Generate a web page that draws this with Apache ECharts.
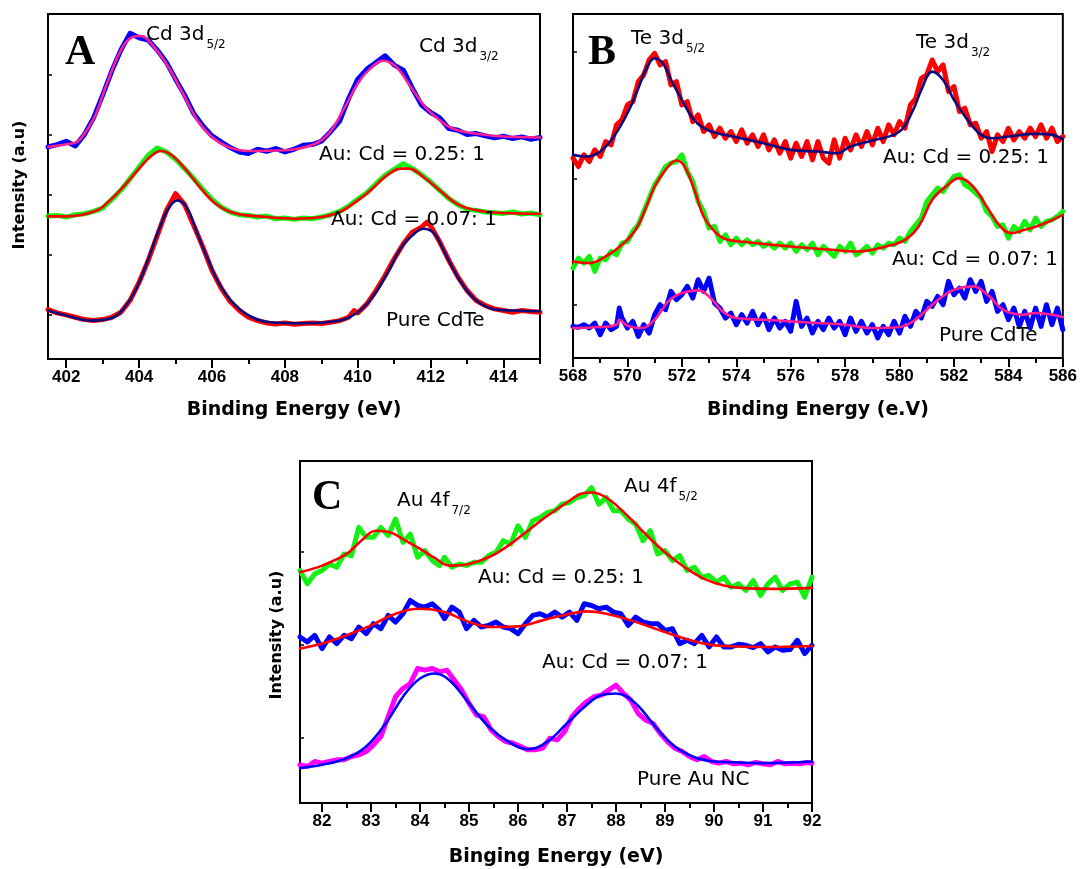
<!DOCTYPE html>
<html><head><meta charset="utf-8">
<script src="https://cdn.jsdelivr.net/npm/echarts@6.0.0/dist/echarts.min.js"></script>
<style>html,body{margin:0;padding:0;background:#fff}#c{width:1080px;height:869px}</style>
</head><body><div id="c"></div>
<script>
// ---------- Panel A : Cd 3d (intensity in arbitrary units) ----------
const fitA1 = [[401.5,635],[402,643],[402.3,650],[402.5,675],[402.8,730],[403.1,820],[403.5,925],[403.8,963],[404.05,967],[404.4,935],[404.8,875],[405.2,795],[405.6,715],[406,665],[406.45,635],[407,623],[408,625],[408.8,643],[409.2,675],[409.6,745],[410,825],[410.3,865],[410.7,893],[411.05,875],[411.45,815],[411.85,755],[412.25,715],[412.6,690],[413.2,675],[413.9,667],[415,663]];
const rawA1 = [[401.5,635],[401.75,642],[402,652],[402.25,638],[402.5,672],[402.75,722],[403,790],[403.25,862],[403.5,925],[403.75,975],[404,962],[404.25,955],[404.5,925],[404.75,888],[405,838],[405.25,790],[405.5,735],[405.75,698],[406,668],[406.25,650],[406.5,633],[406.75,620],[407,615],[407.25,628],[407.5,622],[407.75,630],[408,620],[408.25,628],[408.5,640],[408.75,642],[409,652],[409.25,680],[409.5,712],[409.75,780],[410,838],[410.25,868],[410.5,888],[410.75,908],[411,880],[411.25,865],[411.5,810],[411.75,760],[412,738],[412.25,722],[412.5,690],[412.75,685],[413,672],[413.25,675],[413.5,668],[413.75,662],[414,667],[414.25,660],[414.5,665],[414.75,658],[415,663]];
const fitA2 = [[401.5,427],[402,427],[402.8,443],[403.2,475],[403.6,520],[404,570],[404.3,605],[404.6,623],[404.9,610],[405.3,565],[405.7,510],[406.1,465],[406.6,437],[407.3,427],[408.3,420],[409,425],[409.5,440],[410,475],[410.4,510],[410.8,550],[411.2,570],[411.4,570],[411.8,545],[412.3,500],[412.8,460],[413.4,443],[414,437],[415,435]];
const rawA2 = [[401.5,428],[401.75,430],[402,425],[402.25,432],[402.5,435],[402.75,442],[403,452],[403.25,478],[403.5,505],[403.75,540],[404,575],[404.25,610],[404.5,632],[404.75,620],[405,598],[405.25,570],[405.5,540],[405.75,508],[406,478],[406.25,455],[406.5,440],[406.75,432],[407,430],[407.25,425],[407.5,428],[407.75,420],[408,422],[408.25,418],[408.5,422],[408.75,420],[409,425],[409.25,432],[409.5,442],[409.75,458],[410,478],[410.25,498],[410.5,525],[410.75,550],[411,568],[411.25,585],[411.5,570],[411.75,552],[412,530],[412.25,505],[412.5,480],[412.75,462],[413,448],[413.25,445],[413.5,440],[413.75,438],[414,436],[414.25,440],[414.5,434],[414.75,437],[415,432]];
const fitA3 = [[401.5,145],[402,130],[402.7,115],[403.3,125],[403.6,155],[403.9,205],[404.2,285],[404.5,375],[404.8,450],[405.05,475],[405.3,455],[405.6,375],[405.9,295],[406.2,225],[406.6,165],[407.1,125],[407.6,110],[408.5,107],[409.5,115],[410,140],[410.4,185],[410.8,255],[411.2,335],[411.55,375],[411.8,390],[412.1,375],[412.4,315],[412.8,235],[413.2,180],[413.7,150],[414.3,145],[415,143]];
const rawA3 = [[401.5,148],[401.75,138],[402,132],[402.25,125],[402.5,118],[402.75,115],[403,118],[403.25,125],[403.5,140],[403.75,175],[404,230],[404.25,295],[404.5,370],[404.75,445],[405,495],[405.25,462],[405.5,400],[405.75,335],[406,265],[406.25,212],[406.5,172],[406.75,145],[407,125],[407.25,115],[407.5,108],[407.75,105],[408,108],[408.25,104],[408.5,106],[408.75,108],[409,106],[409.25,110],[409.5,115],[409.75,125],[409.9,145],[410,138],[410.25,165],[410.5,205],[410.75,250],[411,300],[411.25,345],[411.5,380],[411.75,395],[411.9,410],[412,398],[412.25,350],[412.5,295],[412.75,245],[413,205],[413.25,175],[413.5,160],[413.75,150],[414,145],[414.25,140],[414.5,145],[414.75,142],[415,140]];

// ---------- Panel B : Te 3d ----------
const fitB1 = [[568,610],[568.5,605],[569,620],[569.5,665],[570,735],[570.4,810],[570.7,870],[571,900],[571.3,885],[571.6,835],[572,775],[572.4,720],[572.8,690],[573.3,675],[574,663],[575,645],[576,625],[577,620],[577.7,615],[578.2,635],[579,653],[580,680],[580.5,745],[580.8,805],[581.2,860],[581.6,835],[582,775],[582.5,715],[583,670],[583.4,660],[584,665],[585,673],[585.6,670],[586,657]];
const rawB1 = [[568,600],[568.2,575],[568.4,610],[568.6,590],[568.8,625],[569,605],[569.2,650],[569.4,640],[569.6,700],[569.8,715],[570,760],[570.2,770],[570.4,830],[570.6,850],[570.8,895],[571,915],[571.2,880],[571.4,890],[571.6,820],[571.8,830],[572,760],[572.2,770],[572.4,710],[572.6,730],[572.8,680],[573,700],[573.2,665],[573.4,690],[573.6,660],[573.8,680],[574,650],[574.2,685],[574.4,645],[574.6,670],[574.8,635],[575,670],[575.2,625],[575.4,655],[575.6,615],[575.8,650],[576,600],[576.2,645],[576.4,605],[576.6,650],[576.8,595],[577,650],[577.2,600],[577.4,585],[577.6,655],[577.8,600],[578,660],[578.2,625],[578.4,670],[578.6,635],[578.8,680],[579,640],[579.2,690],[579.4,650],[579.6,700],[579.8,670],[580,710],[580.2,690],[580.4,760],[580.6,780],[580.8,840],[581,850],[581.2,895],[581.4,860],[581.6,880],[581.8,800],[582,815],[582.2,740],[582.4,750],[582.6,700],[582.8,705],[583,660],[583.2,680],[583.4,620],[583.6,670],[583.8,650],[584,690],[584.2,655],[584.4,680],[584.6,660],[584.8,690],[585,665],[585.2,700],[585.4,660],[585.6,690],[585.8,650],[586,665]];
const fitB2 = [[568,290],[568.6,285],[569.2,305],[569.8,340],[570.3,385],[570.7,455],[571,515],[571.4,565],[571.8,593],[572.1,575],[572.5,495],[572.8,425],[573.2,380],[573.6,357],[574.5,347],[576,335],[577.5,325],[578.5,320],[579.5,335],[580.2,355],[580.7,395],[581.2,475],[581.7,515],[582.2,540],[582.7,515],[583.2,455],[583.7,395],[584.1,375],[584.6,385],[585.2,400],[586,430]];
const rawB2 = [[568,270],[568.2,300],[568.4,285],[568.6,305],[568.8,260],[569,300],[569.2,295],[569.4,320],[569.6,310],[569.8,345],[570,350],[570.2,380],[570.4,400],[570.6,440],[570.8,480],[571,520],[571.2,545],[571.4,575],[571.6,585],[571.8,590],[572,610],[572.2,560],[572.4,530],[572.6,470],[572.8,440],[573,390],[573.2,395],[573.4,350],[573.6,370],[573.8,340],[574,360],[574.2,340],[574.4,355],[574.6,340],[574.8,350],[575,335],[575.2,345],[575.4,330],[575.6,345],[575.8,330],[576,345],[576.2,320],[576.4,340],[576.6,325],[576.8,345],[577,310],[577.2,335],[577.4,320],[577.6,305],[577.8,335],[578,320],[578.2,345],[578.4,310],[578.6,320],[578.8,335],[579,315],[579.2,340],[579.4,330],[579.6,345],[579.8,340],[580,360],[580.2,350],[580.4,380],[580.6,400],[580.8,420],[581,470],[581.2,490],[581.4,510],[581.6,500],[581.8,525],[582,545],[582.2,550],[582.4,520],[582.6,510],[582.8,495],[583,480],[583.2,440],[583.4,425],[583.6,395],[583.8,400],[584,360],[584.2,395],[584.4,380],[584.6,410],[584.8,385],[585,420],[585.2,395],[585.4,410],[585.6,415],[585.8,425],[586,440]];
const fitB3 = [[568,90],[569,93],[569.6,100],[569.7,115],[570,97],[570.5,90],[571,115],[571.5,170],[572,195],[572.6,203],[573,185],[573.5,140],[574,120],[575,115],[576,110],[577,105],[578,100],[579,90],[580,93],[580.5,110],[581,145],[581.5,180],[582,205],[582.7,215],[583.3,185],[583.8,145],[584.5,130],[585,135],[586,123]];
const rawB3 = [[568,95],[568.2,92],[568.4,100],[568.6,90],[568.8,105],[569,70],[569.2,105],[569.4,85],[569.6,95],[569.7,150],[569.8,120],[570,90],[570.2,110],[570.4,65],[570.6,100],[570.8,75],[571,130],[571.2,160],[571.4,145],[571.6,200],[571.8,175],[572,190],[572.2,215],[572.4,180],[572.6,235],[572.8,200],[573,240],[573.2,165],[573.4,150],[573.6,120],[573.8,135],[574,100],[574.2,130],[574.4,105],[574.6,140],[574.8,100],[575,130],[575.2,85],[575.4,120],[575.6,90],[575.8,110],[576,80],[576.2,170],[576.4,95],[576.6,120],[576.8,75],[577,110],[577.2,85],[577.4,120],[577.6,90],[577.8,110],[578,70],[578.2,120],[578.4,80],[578.6,110],[578.8,75],[579,100],[579.2,60],[579.4,95],[579.6,70],[579.8,110],[580,75],[580.2,125],[580.4,95],[580.6,140],[580.8,120],[581,170],[581.2,155],[581.4,185],[581.6,160],[581.8,230],[582,190],[582.2,210],[582.4,180],[582.6,235],[582.8,200],[583,230],[583.2,170],[583.4,200],[583.6,140],[583.8,160],[584,115],[584.2,150],[584.4,95],[584.6,140],[584.8,90],[585,150],[585.2,95],[585.4,160],[585.6,100],[585.8,150],[586,85]];

// ---------- Panel C : Au 4f ----------
const fitC1 = [[81.55,695],[82,715],[82.5,750],[82.8,790],[83.1,820],[83.4,815],[83.7,790],[84,765],[84.3,738],[84.6,715],[85,720],[85.4,740],[85.8,775],[86.2,820],[86.6,865],[87,905],[87.3,932],[87.5,935],[87.8,920],[88.2,870],[88.6,810],[89,755],[89.4,710],[89.8,675],[90.2,655],[90.6,647],[91.2,645],[92,648]];
const rawC1 = [[81.55,700],[81.7,660],[81.85,690],[82,700],[82.15,720],[82.3,710],[82.45,750],[82.6,745],[82.75,830],[82.9,800],[83.05,800],[83.2,830],[83.35,805],[83.5,855],[83.65,785],[83.8,810],[83.95,740],[84.1,760],[84.25,730],[84.4,715],[84.5,740],[84.65,710],[84.8,720],[84.95,715],[85.1,725],[85.25,725],[85.4,745],[85.55,755],[85.7,790],[85.85,780],[86,835],[86.15,800],[86.3,850],[86.45,860],[86.6,875],[86.75,880],[86.9,900],[87.05,905],[87.2,920],[87.35,925],[87.5,950],[87.65,900],[87.8,920],[87.95,880],[88.1,880],[88.25,855],[88.4,840],[88.55,790],[88.7,820],[88.85,750],[89,760],[89.15,730],[89.3,745],[89.45,700],[89.6,710],[89.75,680],[89.9,685],[90.05,665],[90.2,680],[90.35,650],[90.5,660],[90.65,640],[90.8,670],[90.95,625],[91.1,660],[91.25,680],[91.4,640],[91.55,660],[91.7,665],[91.85,620],[92,680]];
const fitC2 = [[81.55,465],[82,480],[82.5,505],[83,535],[83.5,570],[84,585],[84.5,575],[85,545],[85.5,530],[86,532],[86.5,550],[87,568],[87.4,577],[87.8,570],[88.3,550],[88.8,525],[89.3,500],[89.8,480],[90.3,472],[91,470],[92,473]];
const rawC2 = [[81.55,500],[81.7,485],[81.85,505],[82,465],[82.15,500],[82.3,480],[82.45,505],[82.6,495],[82.75,530],[82.9,510],[83.05,540],[83.2,525],[83.35,565],[83.5,545],[83.65,570],[83.8,610],[83.95,595],[84.1,590],[84.25,600],[84.4,580],[84.5,555],[84.65,590],[84.8,575],[84.95,525],[85.1,550],[85.25,530],[85.4,535],[85.55,545],[85.7,530],[85.85,525],[86,510],[86.15,540],[86.3,565],[86.45,570],[86.6,560],[86.75,575],[86.9,560],[87.05,575],[87.2,550],[87.35,600],[87.5,595],[87.65,585],[87.8,590],[87.95,575],[88.1,570],[88.25,535],[88.4,560],[88.55,545],[88.7,540],[88.85,540],[89,520],[89.15,525],[89.3,480],[89.45,490],[89.6,480],[89.75,505],[89.9,470],[90.05,500],[90.2,470],[90.35,470],[90.5,478],[90.65,475],[90.8,468],[90.95,480],[91.1,455],[91.25,470],[91.4,460],[91.55,462],[91.7,490],[91.85,450],[92,475]];
const fitC3 = [[81.55,105],[82,115],[82.5,135],[82.9,170],[83.3,240],[83.7,330],[84,375],[84.3,390],[84.6,370],[85,300],[85.4,230],[85.8,185],[86.2,162],[86.6,185],[87,240],[87.4,295],[87.7,325],[88,330],[88.4,300],[88.8,230],[89.2,170],[89.6,138],[90,125],[90.5,122],[91,120],[92,125]];
const rawC3 = [[81.55,115],[81.7,110],[81.85,125],[82,120],[82.15,125],[82.3,130],[82.45,130],[82.6,140],[82.75,145],[82.9,155],[83.05,175],[83.2,200],[83.35,260],[83.5,320],[83.65,345],[83.8,360],[83.95,405],[84.1,400],[84.25,405],[84.4,395],[84.55,400],[84.7,370],[84.85,340],[85,300],[85.15,265],[85.3,260],[85.45,220],[85.6,200],[85.75,185],[85.9,180],[86.05,170],[86.2,160],[86.35,160],[86.5,165],[86.65,195],[86.8,190],[86.95,215],[87.1,260],[87.25,285],[87.4,305],[87.55,320],[87.7,325],[87.85,340],[88,355],[88.15,330],[88.3,310],[88.45,270],[88.6,250],[88.75,240],[88.9,210],[89.05,185],[89.2,165],[89.35,155],[89.5,140],[89.65,130],[89.8,140],[89.95,125],[90.1,120],[90.25,125],[90.4,118],[90.55,120],[90.7,115],[90.85,122],[91,118],[91.15,115],[91.3,125],[91.45,118],[91.6,120],[91.75,118],[91.9,122],[92,120]];

// ---------- axis ranges / labels ----------
const rangeA = [401.5, 415], rangeB = [568, 586], rangeC = [81.55, 92];
const titleA = 'Binding Energy (eV)', titleB = 'Binding Energy (e.V)', titleC = 'Binging Energy (eV)';
const yTitle = 'Intensity (a.u)';

const colors = {blue:'#0000ff', pink:'#ff1f8f', green:'#14ef14', red:'#ff0000', navy:'#0b0b80', magenta:'#ff00ff'};

// ---------- layout ----------
const gA = {left:48, top:14, width:492, height:345};
const gB = {left:573, top:14, width:490, height:344};
const gC = {left:300, top:461, width:512, height:342};
function xpix(g, r, v){ return g.left + (v - r[0]) / (r[1] - r[0]) * g.width; }

const grids = [], xAxes = [], yAxes = [];
const tickLine = {color:'#000', width:2};
const lblStyle = {show:true, margin:10, fontFamily:'Liberation Sans', fontWeight:'bold', fontSize:17, color:'#000'};
function hidden(gi, min, max){ return {type:'value', gridIndex:gi, min, max, show:false}; }
function addGrid(g, border){
  grids.push(Object.assign({show:!!border, borderColor:'#000', borderWidth:2, backgroundColor:'transparent', containLabel:false}, g));
  return grids.length - 1;
}
// data grids
const iA = addGrid(gA, true);  xAxes.push(hidden(iA, rangeA[0], rangeA[1])); yAxes.push(hidden(iA, 0, 1033));
const iB = addGrid(gB, true);
xAxes.push({type:'value', gridIndex:iB, min:rangeB[0], max:rangeB[1], interval:2,
  axisLine:{show:false}, axisTick:{show:true, length:9, lineStyle:tickLine},
  minorTick:{show:true, splitNumber:2, length:5, lineStyle:tickLine},
  axisLabel:lblStyle, splitLine:{show:false}, minorSplitLine:{show:false}});
yAxes.push(hidden(iB, 0, 1033));
const iC = addGrid(gC, true);  xAxes.push(hidden(iC, rangeC[0], rangeC[1])); yAxes.push(hidden(iC, 0, 1030));

// tick-only grids
function xTickGrid(g, r, a, b, interval, minor, labels, len){
  const gi = addGrid({left:xpix(g, r, a), top:g.top, width:xpix(g, r, b) - xpix(g, r, a), height:g.height}, false);
  xAxes.push({type:'value', gridIndex:gi, min:a, max:b, interval,
    axisLine:{show:false}, axisTick:{show:true, length:len, lineStyle:tickLine},
    minorTick:{show:minor, splitNumber:2, length:5, lineStyle:tickLine},
    axisLabel:labels ? lblStyle : {show:false}, splitLine:{show:false}, minorSplitLine:{show:false}});
  yAxes.push(hidden(gi, 0, 1));
}
function yTickGrid(g, top, bottom, n){
  const gi = addGrid({left:g.left, top, width:g.width, height:bottom - top}, false);
  xAxes.push(hidden(gi, 0, 1));
  yAxes.push({type:'value', gridIndex:gi, min:0, max:n, interval:1,
    axisLine:{show:false}, axisTick:{show:true, inside:true, length:4, lineStyle:{color:'#000', width:1.5}},
    axisLabel:{show:false}, splitLine:{show:false}});
}
xTickGrid(gA, rangeA, 402, 414, 2, true, true, 9);
xTickGrid(gA, rangeA, 413, 415, 2, false, false, 5);
xTickGrid(gC, rangeC, 82, 92, 1, true, true, 9);
yTickGrid(gA, 75, 315, 4);
yTickGrid(gB, 52, 305, 2);
yTickGrid(gC, 552, 738, 2);

function line(data, gi, color, width, smooth, z){
  return {type:'line', xAxisIndex:gi, yAxisIndex:gi, data, symbol:'none', showSymbol:false, smooth,
    lineStyle:{color, width, cap:'round', join:'round'}, z, silent:true, animation:false, clip:true};
}
const series = [
  line(rawA1, iA, colors.blue, 5, false, 2), line(fitA1, iA, colors.pink, 2.6, 0.4, 3),
  line(rawA2, iA, colors.green, 5, false, 2), line(fitA2, iA, colors.red, 2.6, 0.4, 3),
  line(rawA3, iA, colors.red, 5, false, 2), line(fitA3, iA, colors.navy, 2.6, 0.4, 3),
  line(rawB1, iB, colors.red, 5, false, 2), line(fitB1, iB, colors.navy, 2.6, 0.4, 3),
  line(rawB2, iB, colors.green, 5, false, 2), line(fitB2, iB, colors.red, 2.6, 0.4, 3),
  line(rawB3, iB, colors.blue, 5, false, 2), line(fitB3, iB, colors.pink, 2.6, 0.4, 3),
  line(rawC1, iC, colors.green, 5, false, 2), line(fitC1, iC, colors.red, 2.6, 0.4, 3),
  line(rawC2, iC, colors.blue, 5, false, 2), line(fitC2, iC, colors.red, 2.6, 0.4, 3),
  line(rawC3, iC, colors.magenta, 5, false, 2), line(fitC3, iC, colors.blue, 2.6, 0.4, 3)
];

const ann = '20px "DejaVu Sans"', sub = '12px "DejaVu Sans"', big = 'bold 42px "Liberation Serif"';
const mctx = document.createElement('canvas').getContext('2d');
function textWidth(text, font){ mctx.font = font; return mctx.measureText(text).width; }
function T(text, x, y, font, align){ return {type:'text', x, y, z:100, silent:true,
  style:{text, font, fill:'#000', align:align || 'left', verticalAlign:'middle'}}; }
function R(text, x, y, font){ return {type:'text', x, y, rotation:Math.PI/2, z:100, silent:true,
  style:{text, font, fill:'#000', align:'center', verticalAlign:'middle'}}; }
// label with subscript right after the main text
function TS(main, s, x, y){ return [T(main, x, y, ann), T(s, x + textWidth(main, ann) + 2, y + 10, sub)]; }
const graphic = [
  T('A', 65, 53, big), T('B', 588, 53, big), T('C', 312, 498, big),
  ...TS('Cd 3d', '5/2', 146, 35),
  ...TS('Cd 3d', '3/2', 419, 47),
  T('Au: Cd = 0.25: 1', 319, 155, ann), T('Au: Cd = 0.07: 1', 331, 220, ann), T('Pure CdTe', 386, 321, ann),
  ...TS('Te 3d', '5/2', 631, 39),
  ...TS('Te 3d', '3/2', 916, 43),
  T('Au: Cd = 0.25: 1', 883, 158, ann), T('Au: Cd = 0.07: 1', 892, 260, ann), T('Pure CdTe', 939, 336, ann),
  ...TS('Au 4f', '7/2', 397, 501),
  ...TS('Au 4f', '5/2', 624, 487),
  T('Au: Cd = 0.25: 1', 478, 578, ann), T('Au: Cd = 0.07: 1', 542, 663, ann), T('Pure Au NC', 637, 780, ann),
  T(titleA, 294, 410, 'bold 19px "DejaVu Sans"', 'center'),
  T(titleB, 818, 410, 'bold 19px "DejaVu Sans"', 'center'),
  T(titleC, 556, 857, 'bold 19px "DejaVu Sans"', 'center'),
  R(yTitle, 20, 185, 'bold 16px "DejaVu Sans"'),
  R(yTitle, 277, 635, 'bold 16px "DejaVu Sans"')
];

const chart = echarts.init(document.getElementById('c'), null, {renderer:'canvas'});
chart.setOption({animation:false, backgroundColor:'#fff', grid:grids, xAxis:xAxes, yAxis:yAxes, series, graphic});
</script></body></html>
